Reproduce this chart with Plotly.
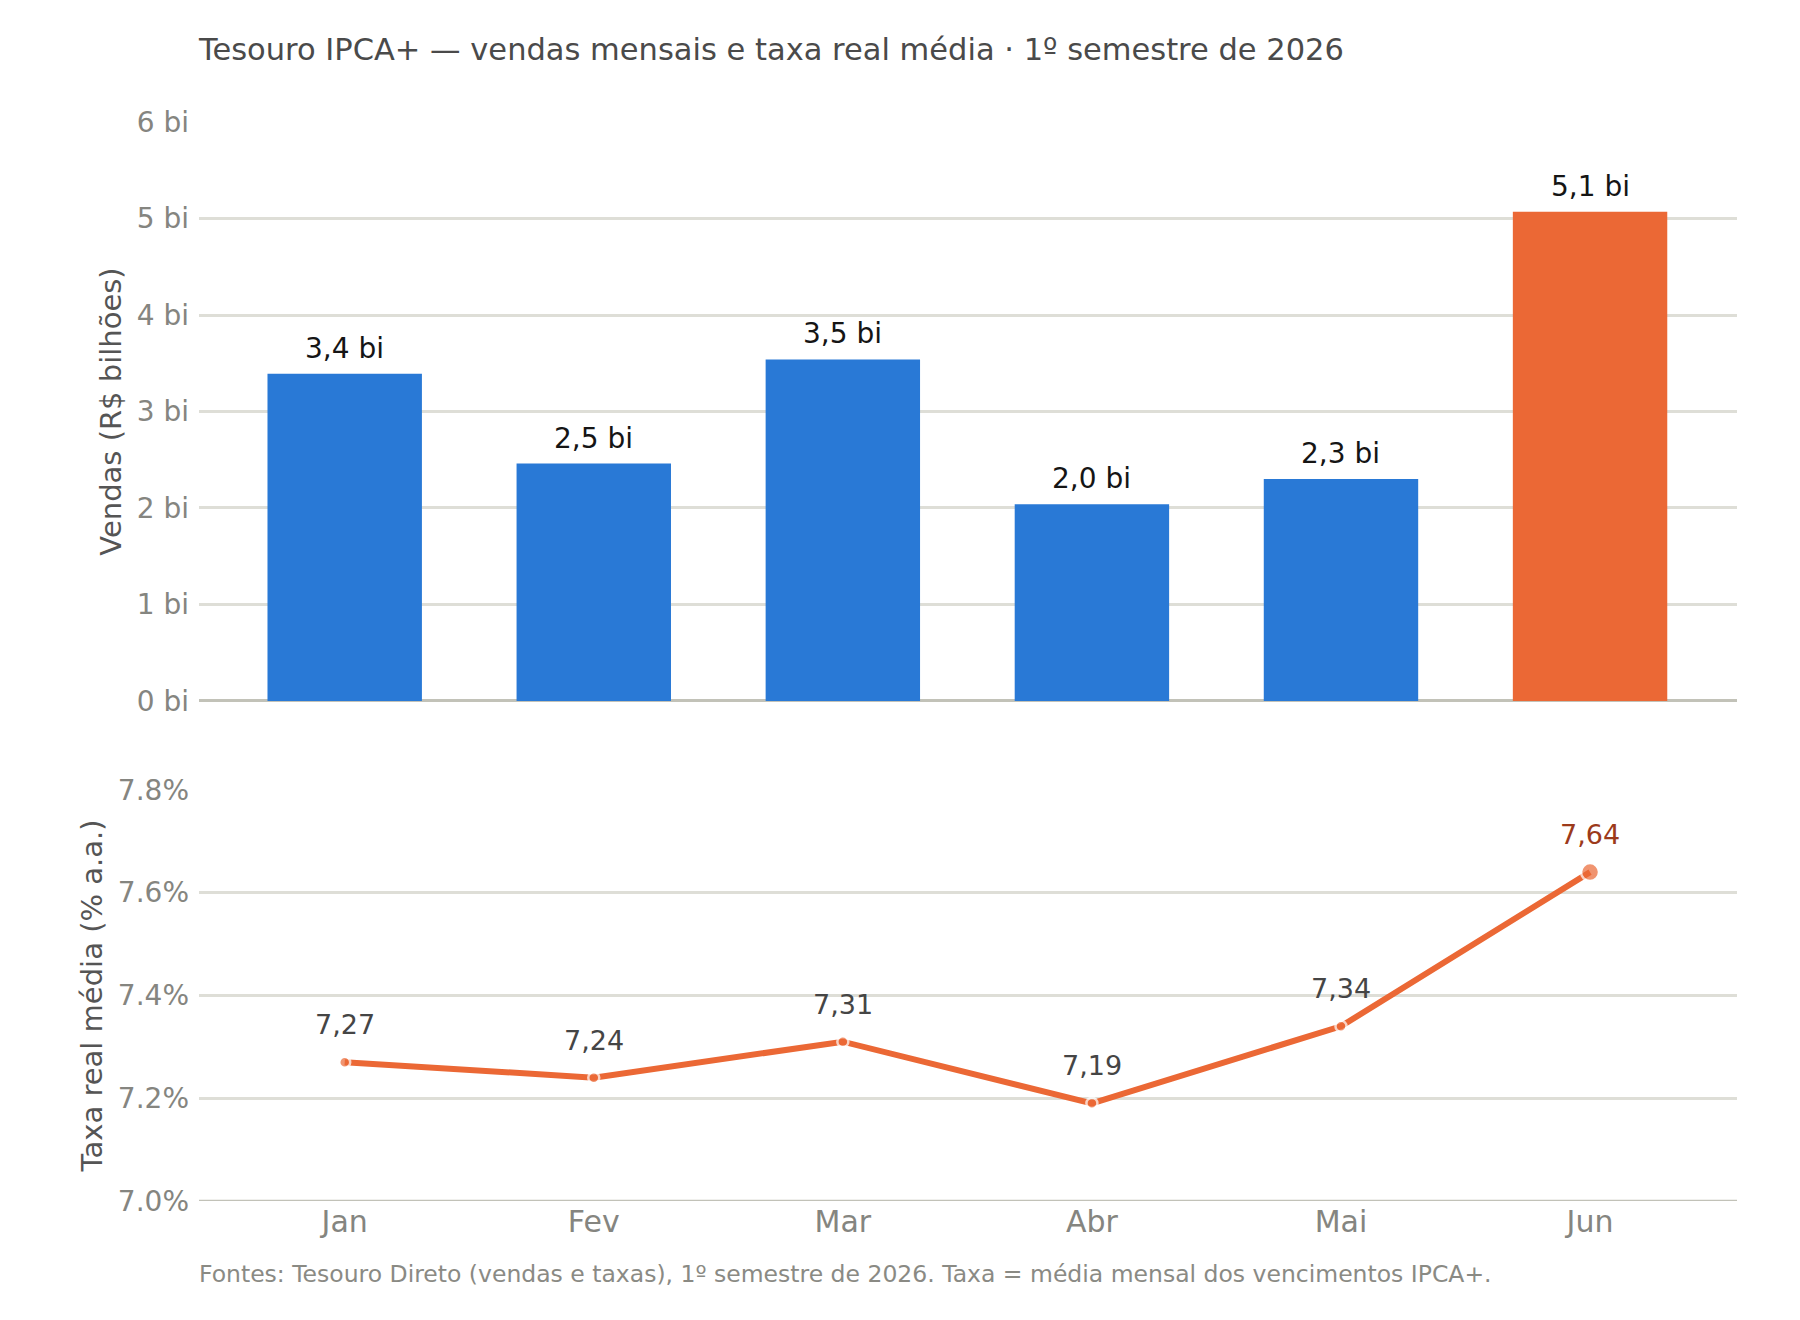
import plotly.graph_objects as go

meses = ["Jan", "Fev", "Mar", "Abr", "Mai", "Jun"]
vendas_bi = [3.39, 2.46, 3.54, 2.04, 2.30, 5.07]
taxa_real = [7.27, 7.24, 7.31, 7.19, 7.34, 7.64]
y1_ticks = [0, 1, 2, 3, 4, 5, 6]
y1_labels = ["0 bi", "1 bi", "2 bi", "3 bi", "4 bi", "5 bi", "6 bi"]
y2_ticks = [7.0, 7.2, 7.4, 7.6, 7.8]
y2_labels = ["7.0%", "7.2%", "7.4%", "7.6%", "7.8%"]

BLUE = "#2979D6"
ORANGE = "#EB6835"
DARK_ORANGE = "#9C3A1B"
FONT = "DejaVu Sans, Verdana, sans-serif"
GRID = "#DEDED7"
ZERO = "#C2C2B8"
TICK = "#858580"

bar_colors = [BLUE] * (len(meses) - 1) + [ORANGE]
bar_text = [f"{v:.1f}".replace(".", ",") + " bi" for v in vendas_bi]
line_text = [f"{v:.2f}".replace(".", ",") for v in taxa_real]

fig = go.Figure()
fig.add_trace(go.Bar(
    x=meses, y=vendas_bi, marker=dict(color=bar_colors, line=dict(width=0)),
    width=0.62, xaxis="x", yaxis="y", hoverinfo="skip", showlegend=False,
))
fig.add_trace(go.Scatter(
    x=meses, y=taxa_real, mode="lines+markers", xaxis="x2", yaxis="y2",
    line=dict(color=ORANGE, width=6),
    marker=dict(color=ORANGE, size=[11] * (len(meses) - 1) + [18],
                line=dict(color="white", width=2.5)),
    showlegend=False, hoverinfo="skip", cliponaxis=False,
))

annotations = []
for m, v, t in zip(meses, vendas_bi, bar_text):
    annotations.append(dict(x=m, y=v, xref="x", yref="y", text=t, showarrow=False,
                            yanchor="bottom", yshift=7,
                            font=dict(family=FONT, size=28, color="#151515")))
for i, (m, v, t) in enumerate(zip(meses, taxa_real, line_text)):
    last = i == len(meses) - 1
    annotations.append(dict(x=m, y=v, xref="x2", yref="y2", text=t, showarrow=False,
                            yanchor="bottom", yshift=20,
                            font=dict(family=FONT, size=27,
                                      color=DARK_ORANGE if last else "#454545")))
annotations.append(dict(
    x=-0.001, y=-0.068, xref="paper", yref="paper", xanchor="left", yanchor="middle",
    text="Fontes: Tesouro Direto (vendas e taxas), 1º semestre de 2026. Taxa = média mensal dos vencimentos IPCA+.",
    showarrow=False, font=dict(family=FONT, size=23.5, color="#8A8A84"),
))

fig.update_layout(
    width=1800, height=1320,
    margin=dict(l=199, r=63, t=122, b=119),
    paper_bgcolor="white", plot_bgcolor="white",
    font=dict(family=FONT, color="#444"),
    title=dict(text="Tesouro IPCA+ — vendas mensais e taxa real média · 1º semestre de 2026",
               x=0, xref="paper", xanchor="left", y=1 - 49 / 1320, yref="container",
               yanchor="middle", font=dict(family=FONT, size=30.5, color="#4A4A4A")),
    xaxis=dict(domain=[0, 1], anchor="y", range=[-0.585, 5.59], showticklabels=False,
               showgrid=False, zeroline=False, showline=False, ticks=""),
    yaxis=dict(domain=[0.4634, 1], anchor="x", range=[0, 6], tickmode="array",
               tickvals=y1_ticks, ticktext=y1_labels,
               showgrid=True, gridcolor=GRID, gridwidth=2.5,
               zeroline=True, zerolinecolor=ZERO, zerolinewidth=2.5, showline=False,
               ticks="", ticklabelstandoff=9,
               tickfont=dict(family=FONT, size=28, color=TICK),
               title=dict(text="Vendas (R$ bilhões)", standoff=6,
                          font=dict(family=FONT, size=29, color="#555"))),
    xaxis2=dict(domain=[0, 1], anchor="y2", range=[-0.585, 5.59], showgrid=False,
                zeroline=False, showline=False, ticks="",
                tickfont=dict(family=FONT, size=30, color=TICK)),
    yaxis2=dict(domain=[0, 0.381], anchor="x2", range=[7.0, 7.8], tickmode="array",
                tickvals=y2_ticks, ticktext=y2_labels, showgrid=True, gridcolor=GRID,
                gridwidth=2.5, zeroline=False, showline=False, ticks="",
                ticklabelstandoff=9,
                tickfont=dict(family=FONT, size=28, color=TICK),
                title=dict(text="Taxa real média (% a.a.)", standoff=6,
                           font=dict(family=FONT, size=29, color="#555"))),
    annotations=annotations,
    shapes=[dict(type="line", xref="x2 domain", yref="y2", x0=0, x1=1, y0=7.0, y1=7.0,
                 line=dict(color=ZERO, width=2.5), layer="below")],
)

fig.write_html("out.html")
